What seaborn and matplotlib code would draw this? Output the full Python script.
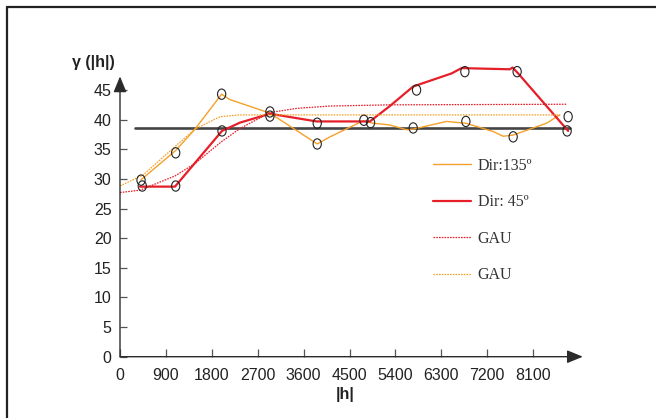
import matplotlib
matplotlib.use("Agg")
import matplotlib.pyplot as plt
import seaborn as sns
import numpy as np
from matplotlib.path import Path
from matplotlib.lines import Line2D

# experimental variogram, direction 135
dir135_h = [405, 1092, 1470, 1993, 2150, 2940, 3867, 4116, 4769, 4965, 5292,
            5619, 5749, 6403, 6782, 7317, 7513, 7709, 8363, 8624]
dir135_g = [29.8, 34.8, 38.4, 44.3, 43.4, 41.1, 35.9, 37.1, 39.8, 39.4, 39.1,
            38.3, 38.4, 39.7, 39.4, 38.0, 37.2, 37.4, 39.4, 40.8]

# experimental variogram, direction 45
dir45_h = [392, 1078, 2000, 2352, 2940, 3855, 4900, 5292, 5749, 6501, 6697,
           7644, 7697, 7807, 8787]
dir45_g = [28.7, 28.7, 38.1, 39.5, 41.0, 39.7, 39.7, 42.3, 45.6, 47.8, 48.7,
           48.5, 48.8, 47.8, 38.1]

# gaussian model fitted to dir 45
gau45_h = [0, 392, 1078, 1470, 1993, 2352, 2940, 3463, 4116, 5292, 8767]
gau45_g = [27.7, 28.1, 30.5, 32.6, 36.3, 38.5, 41.2, 41.9, 42.3, 42.5, 42.6]

# gaussian model fitted to dir 135
gau135_h = [0, 457, 1045, 1470, 1960, 2352, 2940, 3867, 8624]
gau135_g = [28.8, 30.7, 35.2, 38.4, 40.5, 40.8, 40.8, 40.8, 40.8]

# sample points (circles)
pts_h = [412, 437, 1092, 1092, 1993, 2000, 2940, 2940, 3867, 3867, 4782, 4913,
         5749, 5815, 6762, 6782, 7709, 7787, 8787, 8767]
pts_g = [29.8, 28.8, 34.4, 28.8, 44.3, 38.1, 41.3, 40.6, 39.4, 35.9, 39.9, 39.5,
         38.6, 45.0, 48.1, 39.7, 37.1, 48.1, 40.5, 38.1]

# sample variance line
var_h = [300, 8820]
var_g = [38.6, 38.6]

xticks = [0, 900, 1800, 2700, 3600, 4500, 5400, 6300, 7200, 8100]
yticks = [0, 5, 10, 15, 20, 25, 30, 35, 40, 45]

orange = "#F5A02A"
red = "#E61E28"
dark = "#2b2b2b"

sns.set_theme(style="white")
plt.rcParams["font.family"] = ["Liberation Sans", "DejaVu Sans"]

fig = plt.figure(figsize=(6.56, 4.18), dpi=100)
ax = fig.add_axes([120 / 656, 61.3 / 418, 474.3 / 656, 296.3 / 418])

sns.lineplot(x=var_h, y=var_g, ax=ax, color="#444444", lw=1.9, estimator=None, sort=False)
h1 = sns.lineplot(x=dir135_h, y=dir135_g, ax=ax, color=orange, lw=1.0, estimator=None, sort=False).lines[-1]
h2 = sns.lineplot(x=dir45_h, y=dir45_g, ax=ax, color=red, lw=1.6, estimator=None, sort=False).lines[-1]
h3 = sns.lineplot(x=gau45_h, y=gau45_g, ax=ax, color=red, lw=0.9, estimator=None, sort=False).lines[-1]
h3.set_dashes([1.3, 0.9])
h4 = sns.lineplot(x=gau135_h, y=gau135_g, ax=ax, color=orange, lw=0.9, estimator=None, sort=False).lines[-1]
h4.set_dashes([1.3, 0.9])

ell = Path.unit_circle().transformed(matplotlib.transforms.Affine2D().scale(0.8, 1.0))
sns.scatterplot(x=pts_h, y=pts_g, ax=ax, marker=ell, s=55, facecolor="none",
                edgecolor="#222222", linewidth=0.8, zorder=5)

ax.set_xlim(0, 9300)
ax.set_ylim(0, 50)
ax.set_xticks(xticks)
ax.set_yticks(yticks)
for s in ax.spines.values():
    s.set_visible(False)
ax.tick_params(axis="x", direction="in", length=6, width=0.9, color="#555555",
               pad=8, labelsize=11.5, labelcolor="#222222", bottom=True)
ax.tick_params(axis="y", direction="in", length=5, width=0.9, color="#555555",
               pad=6, labelsize=11.5, labelcolor="#222222", left=True)

# axes with arrow heads
ax.annotate("", xy=(0, 47.3), xytext=(0, 0),
            arrowprops=dict(arrowstyle="-|>,head_length=0.8,head_width=0.33",
                            color=dark, lw=1.0, shrinkA=0, shrinkB=0),
            annotation_clip=False)
ax.annotate("", xy=(9075, 0), xytext=(0, 0),
            arrowprops=dict(arrowstyle="-|>,head_length=0.8,head_width=0.33",
                            color=dark, lw=1.0, shrinkA=0, shrinkB=0),
            annotation_clip=False)

fig.text(93.5 / 656, 1 - 62 / 418, "γ (|h|)", ha="center", va="center",
         fontsize=11.5, fontweight="bold", color="#222222")
fig.text(345 / 656, 1 - 395 / 418, "|h|", ha="center", va="center",
         fontsize=11.5, fontweight="bold", color="#222222")

ax.legend([h1, h2, h3, h4], ["Dir:135º", "Dir: 45º", "GAU", "GAU"],
          loc="upper left", bbox_to_anchor=(433 / 656, 1 - 158 / 418),
          bbox_transform=fig.transFigure, frameon=False, borderpad=0,
          borderaxespad=0, handlelength=2.35, handletextpad=0.45,
          labelspacing=1.28, prop={"family": "Liberation Serif", "size": 11.5},
          labelcolor="#333333")

# page frame
fig.add_artist(Line2D([7 / 656, 1.0], [1 - 6.5 / 418, 1 - 6.5 / 418],
                      transform=fig.transFigure, color="#222222", lw=1.6))
fig.add_artist(Line2D([7 / 656, 7 / 656], [0, 1 - 6.5 / 418],
                      transform=fig.transFigure, color="#222222", lw=1.6))

fig.savefig("out.png", dpi=100)
